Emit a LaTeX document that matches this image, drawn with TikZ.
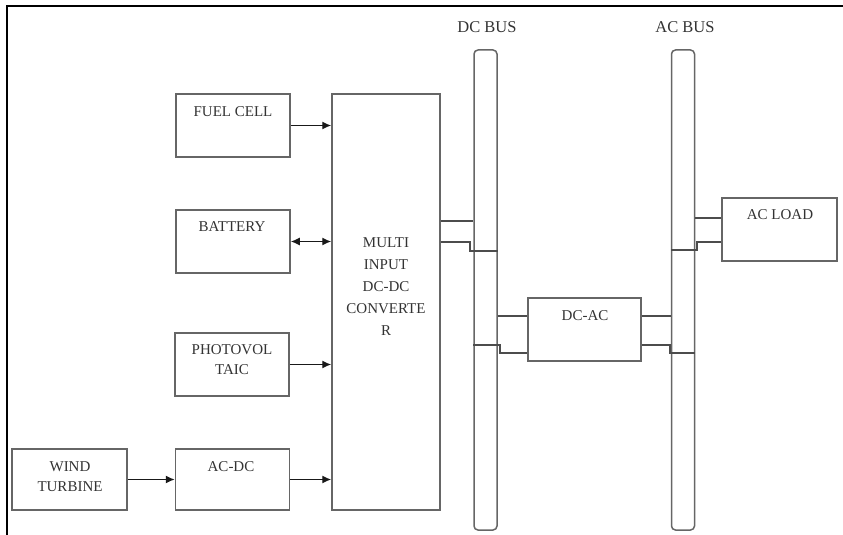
\documentclass[tikz,border=0pt]{standalone}
\usepackage{fontspec}
\setmainfont{Liberation Serif}
\usetikzlibrary{arrows.meta}

\begin{document}
\begin{tikzpicture}[x=1pt, y=-1pt, >={Latex[length=9pt,width=8pt]},
  box/.style={draw=black!60, line width=1.5pt, minimum width=114pt, minimum height=63pt, inner sep=0pt},
  bus/.style={draw=black!60, line width=1.5pt, rounded corners=4pt, minimum width=23pt, minimum height=480pt, inner sep=0pt},
  txt/.style={inner sep=0pt, align=center, text=black!80, font=\fontsize{15}{20}\selectfont},
  wire/.style={draw=black!70, line width=1.3pt},
  feed/.style={draw=black!90, line width=1.4pt}]
  \useasboundingbox (0,0) rectangle (843,535);
  % frame
  \draw[line width=1.8pt] (843,6) -- (7,6) -- (7,535);
  % sources
  \node[box] (fc) at (233,125.5) {};
  \node[box] (bat) at (233,241.5) {};
  \node[box] (pv) at (232,364.5) {};
  \node[box, minimum width=115pt, minimum height=61pt] (wind) at (69.5,479.5) {};
  \node[box, minimum height=61pt] (acdc) at (232.5,479.5) {};
  \node[txt] (fctxt) at (233,112) {FUEL CELL};
  \node[txt] (battxt) at (232,227) {BATTERY};
  \node[txt] (pvtxt) at (232,360) {PHOTOVOL\\TAIC};
  \node[txt] (windtxt) at (70,476.5) {WIND\\TURBINE};
  \node[txt] (acdctxt) at (231,467) {AC-DC};
  % converter
  \node[box, minimum width=108pt, minimum height=416pt] (mic) at (386,302) {};
  \node[txt, font=\fontsize{15}{22}\selectfont] (mictxt) at (386,287) {MULTI\\INPUT\\DC-DC\\CONVERTE\\R};
  % buses
  \node[bus] (dcbus) at (485.5,290) {};
  \node[bus] (acbus) at (683,290) {};
  \node[txt, font=\fontsize{16.5}{20}\selectfont] (dcbustxt) at (487,27) {DC BUS};
  \node[txt, font=\fontsize{16.5}{20}\selectfont] (acbustxt) at (685,27) {AC BUS};
  % inverter and load
  \node[box, minimum width=113pt] (dcac) at (584.5,329.5) {};
  \node[box, minimum width=115pt] (load) at (779.5,229.5) {};
  \node[txt] (dcactxt) at (585,316) {DC-AC};
  \node[txt] (loadtxt) at (780,215) {AC LOAD};
  % arrows into the converter
  \draw[feed,->] (fc.east) -- (fc.east -| mic.west);
  \draw[feed,<->] (bat.east) -- (bat.east -| mic.west);
  \draw[feed,->] (pv.east) -- (pv.east -| mic.west);
  \draw[feed,->] (wind.east) -- (acdc.west);
  \draw[feed,->] (acdc.east) -- (acdc.east -| mic.west);
  % converter to dc bus
  \draw[wire] (mic.east |- 0,221) -- (dcbus.west |- 0,221);
  \draw[wire] (mic.east |- 0,242) -- (470,242) -- (470,251) -- (dcbus.east |- 0,251);
  % dc bus to inverter
  \draw[wire] (dcbus.east |- 0,316) -- (dcac.west |- 0,316);
  \draw[wire] (dcbus.west |- 0,345) -- (500,345) -- (500,353) -- (dcac.west |- 0,353);
  % inverter to ac bus
  \draw[wire] (dcac.east |- 0,316) -- (acbus.west |- 0,316);
  \draw[wire] (dcac.east |- 0,345) -- (670,345) -- (670,353) -- (acbus.east |- 0,353);
  % ac bus to load
  \draw[wire] (acbus.east |- 0,218) -- (load.west |- 0,218);
  \draw[wire] (acbus.west |- 0,250) -- (697,250) -- (697,242) -- (load.west |- 0,242);
\end{tikzpicture}
\end{document}
